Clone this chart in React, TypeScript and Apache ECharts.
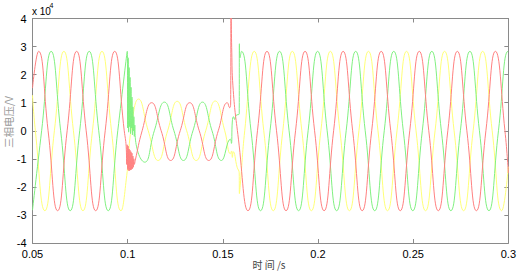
import React, { useEffect, useRef } from 'react';
import * as echarts from 'echarts';

// time (s), voltage (x10^4 V)
const redPre: number[][] = [
  [0.05, 1.52], [0.0532, 2.83], [0.0582, 0], [0.0632, -2.85], [0.0682, 0], [0.0732, 2.83],
  [0.0782, 0], [0.0832, -2.85], [0.0882, 0], [0.0932, 2.83], [0.0982, 0],
];
const redFault: number[][] = [
  [0.0992, -0.55], [0.0995, -1.2], [0.09975, -0.5], [0.1, -1.38], [0.10025, -0.55], [0.1005, -1.42],
  [0.10075, -0.65], [0.101, -1.42], [0.10125, -0.7], [0.1015, -1.4], [0.10175, -0.75], [0.102, -1.38],
  [0.10225, -0.8], [0.1025, -1.35], [0.10275, -0.9], [0.103, -1.3], [0.10325, -1.0], [0.1035, -1.2],
  [0.104, -1.05], [0.1076, 0], [0.1126, 1.0], [0.1176, 0], [0.1226, -1.06], [0.1276, 0], [0.1326, 1.0],
  [0.1376, 0], [0.1426, -1.06], [0.1476, 0], [0.1524, 1.0], [0.1536, 0.82], [0.1541, 0.95],
  [0.1543, 4.6], [0.1547, 2.8], [0.1553, 1.6], [0.1582, -0.3],
];
const redPost: number[][] = [
  [0.1632, -2.85], [0.1682, 0], [0.1732, 2.83], [0.1782, 0], [0.1832, -2.85], [0.1882, 0],
  [0.1932, 2.83], [0.1982, 0], [0.2032, -2.85], [0.2082, 0], [0.2132, 2.83], [0.2182, 0],
  [0.2232, -2.85], [0.2282, 0], [0.2332, 2.83], [0.2382, 0], [0.2432, -2.85], [0.2482, 0],
  [0.2532, 2.83], [0.2582, 0], [0.2632, -2.85], [0.2682, 0], [0.2732, 2.83], [0.2782, 0],
  [0.2832, -2.85], [0.2882, 0], [0.2932, 2.83], [0.2982, 0], [0.3, -1.51],
];

const greenPre: number[][] = [
  [0.05, -2.83], [0.0548, 0], [0.0598, 2.83], [0.0648, 0], [0.0698, -2.85], [0.0748, 0],
  [0.0798, 2.83], [0.0848, 0], [0.0898, -2.85], [0.0948, 0], [0.0998, 2.83],
];
const greenFault: number[][] = [
  [0.1, 0.1], [0.10025, 2.6], [0.1005, -0.05], [0.10075, 2.25], [0.101, 0.15], [0.10125, 1.9],
  [0.1015, -0.1], [0.10175, 1.55], [0.102, 0.1], [0.10225, 1.2], [0.1025, -0.15], [0.10275, 0.85],
  [0.103, 0.0], [0.10325, 0.5], [0.1035, -0.2], [0.10375, 0.2], [0.104, -0.25],
  [0.109, -1.12], [0.114, 0], [0.1193, 1.02], [0.1243, 0], [0.1293, -1.06], [0.1343, 0],
  [0.1393, 1.02], [0.1443, 0], [0.1493, -1.06], [0.154, -0.3], [0.1545, -0.45], [0.155, 0.35],
  [0.1556, 0.5], [0.1562, 0.4], [0.157, 0.55], [0.1586, 0.6], [0.1587, 3.1], [0.159, 2.6],
];
const greenPost: number[][] = [
  [0.1598, 2.83], [0.1648, 0], [0.1698, -2.85], [0.1748, 0], [0.1798, 2.83], [0.1848, 0],
  [0.1898, -2.85], [0.1948, 0], [0.1998, 2.83], [0.2048, 0], [0.2098, -2.85], [0.2148, 0],
  [0.2198, 2.83], [0.2248, 0], [0.2298, -2.85], [0.2348, 0], [0.2398, 2.83], [0.2448, 0],
  [0.2498, -2.85], [0.2548, 0], [0.2598, 2.83], [0.2648, 0], [0.2698, -2.85], [0.2748, 0],
  [0.2798, 2.83], [0.2848, 0], [0.2898, -2.85], [0.2948, 0], [0.2998, 2.83], [0.3, 2.82],
];

const yellowPre: number[][] = [
  [0.05, 1.27], [0.0515, 0], [0.0565, -2.85], [0.0615, 0], [0.0665, 2.83], [0.0715, 0],
  [0.0765, -2.85], [0.0815, 0], [0.0865, 2.83], [0.0915, 0], [0.0965, -2.85], [0.0995, -1.6],
];
const yellowFault: number[][] = [
  [0.102, 0.15], [0.1057, 1.13], [0.1108, 0], [0.116, -1.06], [0.121, 0], [0.126, 1.05],
  [0.131, 0], [0.136, -1.06], [0.141, 0], [0.146, 1.06], [0.151, 0], [0.154, -0.82],
  [0.1546, -0.72], [0.155, -0.95], [0.1555, -0.75], [0.1575, -1.3], [0.1586, -1.5],
  [0.1587, -2.24], [0.1592, -1.9],
];
const yellowPost: number[][] = [
  [0.1615, 0], [0.1665, 2.83], [0.1715, 0], [0.1765, -2.85], [0.1815, 0], [0.1865, 2.83],
  [0.1915, 0], [0.1965, -2.85], [0.2015, 0], [0.2065, 2.83], [0.2115, 0], [0.2165, -2.85],
  [0.2215, 0], [0.2265, 2.83], [0.2315, 0], [0.2365, -2.85], [0.2415, 0], [0.2465, 2.83],
  [0.2515, 0], [0.2565, -2.85], [0.2615, 0], [0.2665, 2.83], [0.2715, 0], [0.2765, -2.85],
  [0.2815, 0], [0.2865, 2.83], [0.2915, 0], [0.2965, -2.85], [0.3, -1.28],
];

const xName = '时 间 /s';
const yName = '三相电压/V';

const AXIS = '#8a8a8a';
const FONT = 'Liberation Sans, Arial, sans-serif';

export default function App() {
  const ref = useRef<HTMLDivElement>(null);
  useEffect(() => {
    if (!ref.current) return;
    const chart = echarts.init(ref.current, undefined, { renderer: 'svg' });
    const baseX = {
      type: 'value' as const, min: 0.05, max: 0.3, interval: 0.05,
      axisLine: { show: true, onZero: false, lineStyle: { color: AXIS, width: 1 } },
      axisTick: { show: true, inside: true, length: 4, lineStyle: { color: AXIS } },
      splitLine: { show: false },
    };
    const baseY = {
      type: 'value' as const, min: -4, max: 4, interval: 1,
      axisLine: { show: true, onZero: false, lineStyle: { color: AXIS, width: 1 } },
      axisTick: { show: true, inside: true, length: 4, lineStyle: { color: AXIS } },
      splitLine: { show: false },
    };
    const line = (data: number[][], color: string) => ({
      type: 'line', data, symbol: 'none', smooth: true, clip: true,
      lineStyle: { color, width: 1 }, itemStyle: { color },
    });
    chart.setOption({
      animation: false,
      backgroundColor: '#ffffff',
      grid: { left: 32.5, right: 8, top: 18.5, bottom: 28 },
      xAxis: [
        { ...baseX, position: 'bottom', axisLabel: { color: '#000', fontSize: 11, fontFamily: FONT, margin: 5 } },
        { ...baseX, position: 'top', axisLabel: { show: false } },
      ],
      yAxis: [
        { ...baseY, position: 'left', axisLabel: { color: '#000', fontSize: 11, fontFamily: FONT, margin: 6 } },
        { ...baseY, position: 'right', axisLabel: { show: false } },
      ],
      series: [
        line([...yellowPre, ...yellowFault, ...yellowPost], '#ffff78'),
        line([...greenPre, ...greenFault, ...greenPost], '#80f080'),
        line([...redPre, ...redFault, ...redPost], '#ff8080'),
      ],
      graphic: [
        { type: 'text', left: 32, top: 6, style: { text: 'x 10', fontSize: 10, fontFamily: FONT, fill: '#000' } },
        { type: 'text', left: 49.5, top: 2, style: { text: '4', fontSize: 7, fontFamily: FONT, fill: '#000' } },
        { type: 'text', x: 269, y: 264, style: { text: xName, fontSize: 10, fontFamily: 'Noto Sans CJK SC, sans-serif', fill: '#444', align: 'center', verticalAlign: 'middle' } },
        { type: 'text', x: 8, y: 122, rotation: Math.PI / 2, style: { text: yName, fontSize: 10.5, fontFamily: 'Noto Sans CJK SC, sans-serif', fill: '#999', align: 'center', verticalAlign: 'middle' } },
      ],
    });
    return () => chart.dispose();
  }, []);
  return <div ref={ref} style={{ position: 'fixed', left: 0, top: 0, width: 519, height: 271 }} />;
}
